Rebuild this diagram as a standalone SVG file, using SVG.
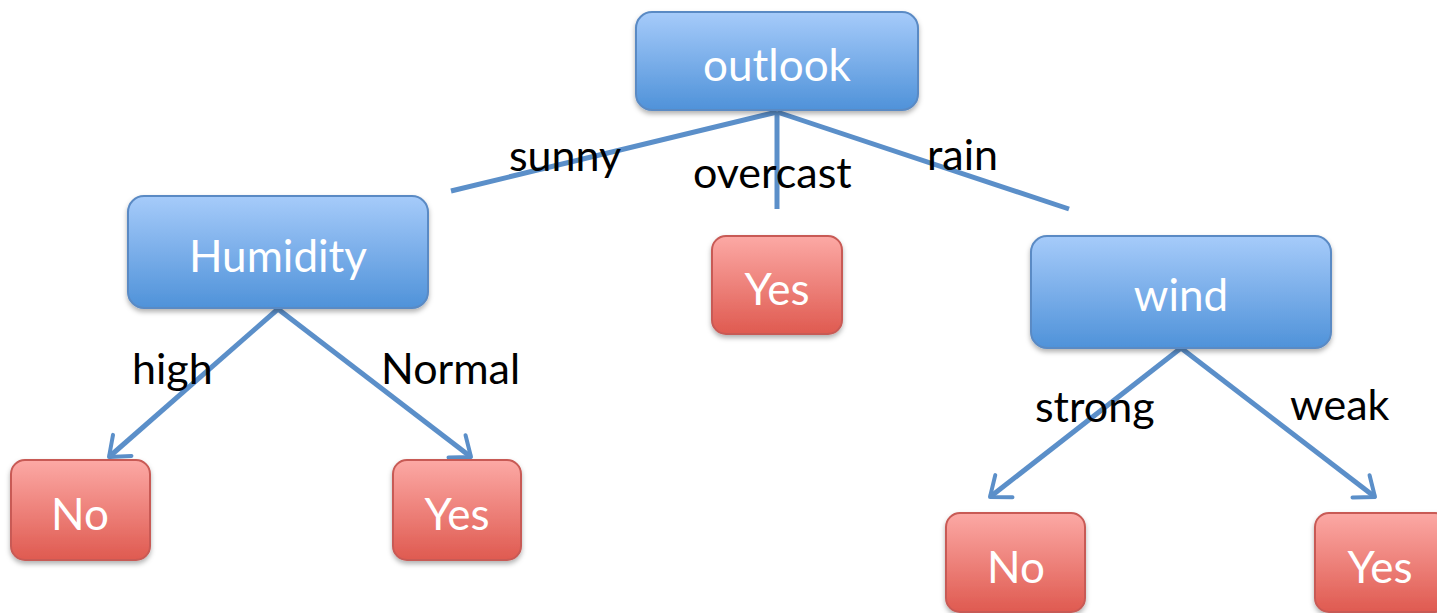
<svg xmlns="http://www.w3.org/2000/svg" width="1437" height="613" viewBox="0 0 1437 613">
<defs>
<linearGradient id="gb" x1="0" y1="0" x2="0" y2="1"><stop offset="0" stop-color="#a6cbfa"/><stop offset="1" stop-color="#4f92d9"/></linearGradient>
<linearGradient id="gr" x1="0" y1="0" x2="0" y2="1"><stop offset="0" stop-color="#fca9a5"/><stop offset="1" stop-color="#df5a50"/></linearGradient>
<filter id="sh" x="-10%" y="-10%" width="120%" height="130%"><feDropShadow dx="0" dy="3" stdDeviation="2.5" flood-color="#000" flood-opacity="0.3"/></filter>
<marker id="ar" markerWidth="8" markerHeight="8" viewBox="-6 -5 8 10" refX="0" refY="0" orient="auto" markerUnits="strokeWidth"><path d="M-4.4,-3.5 L0,0 L-4.4,3.5" fill="none" stroke="#5b8fc9" stroke-width="1" stroke-linecap="round" stroke-linejoin="round"/></marker>
<style>
.b{fill:url(#gb);stroke:#5a8ac4;stroke-width:2;filter:url(#sh)}
.r{fill:url(#gr);stroke:#c85a55;stroke-width:2;filter:url(#sh)}
.t{font-family:Lato,"Liberation Sans",sans-serif;font-size:44px;fill:#fff;text-anchor:middle}
.l{font-family:Lato,"Liberation Sans",sans-serif;font-size:43px;fill:#000}
.c{stroke:#5b8fc9;stroke-width:5;fill:none}
</style>
</defs>
<rect width="1437" height="613" fill="#fff"/>
<g id="connectors">
<line class="c" x1="777" y1="112" x2="451" y2="191"/>
<line class="c" x1="777" y1="112" x2="777" y2="209"/>
<line class="c" x1="777" y1="112" x2="1069" y2="209"/>
<line class="c" x1="278" y1="309" x2="109" y2="457" marker-end="url(#ar)"/>
<line class="c" x1="278" y1="309" x2="471" y2="457" marker-end="url(#ar)"/>
<line class="c" x1="1181" y1="348" x2="990" y2="497" marker-end="url(#ar)"/>
<line class="c" x1="1181" y1="348" x2="1375" y2="497" marker-end="url(#ar)"/>
<text class="l" x="509" y="171">sunny</text>
<text class="l" x="693" y="188">overcast</text>
<text class="l" x="927" y="170">rain</text>
<text class="l" x="132" y="384">high</text>
<text class="l" x="381" y="384">Normal</text>
<text class="l" x="1035" y="422">strong</text>
<text class="l" x="1290" y="420">weak</text>
</g>
<g id="outlook"><rect class="b" x="636" y="12" width="282" height="98" rx="16"/><text class="t" x="777" y="81">outlook</text></g>
<g id="humidity"><rect class="b" x="128" y="196" width="300" height="112" rx="16"/><text class="t" x="278" y="272">Humidity</text></g>
<g id="yes-overcast"><rect class="r" x="712" y="236" width="130" height="98" rx="14"/><text class="t" x="777" y="305">Yes</text></g>
<g id="wind"><rect class="b" x="1031" y="236" width="300" height="112" rx="16"/><text class="t" x="1181" y="311">wind</text></g>
<g id="no-high"><rect class="r" x="11" y="460" width="139" height="100" rx="14"/><text class="t" x="80" y="530">No</text></g>
<g id="yes-normal"><rect class="r" x="393" y="460" width="128" height="100" rx="14"/><text class="t" x="457" y="530">Yes</text></g>
<g id="no-strong"><rect class="r" x="946" y="513" width="139" height="99" rx="14"/><text class="t" x="1016" y="583">No</text></g>
<g id="yes-weak"><rect class="r" x="1315" y="513" width="134" height="99" rx="14"/><text class="t" x="1380" y="583">Yes</text></g>
</svg>
